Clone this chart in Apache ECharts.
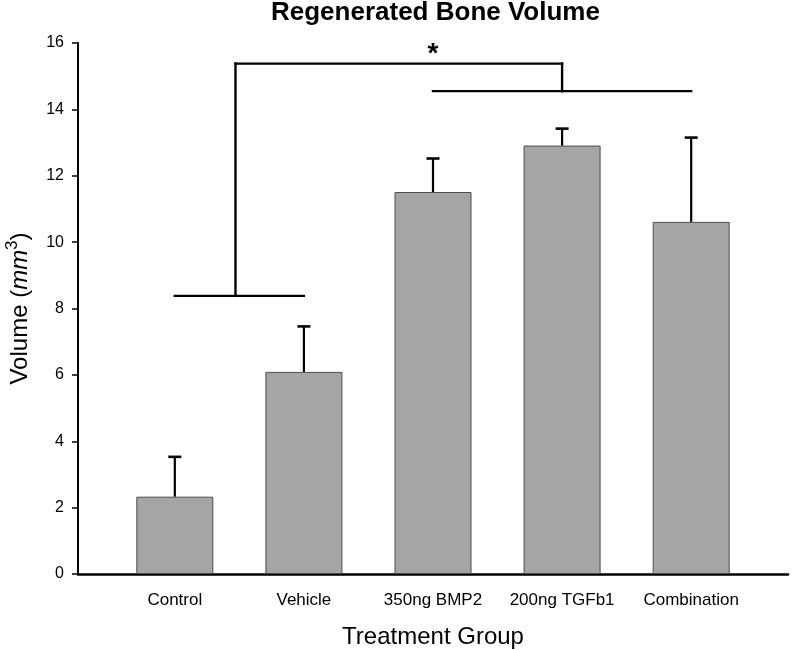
<!DOCTYPE html>
<html><head><meta charset="utf-8">
<script src="https://cdn.jsdelivr.net/npm/echarts@6/dist/echarts.min.js"></script>
<style>html,body{margin:0;padding:0;background:#fff}#c{width:792px;height:650px}</style>
</head><body><div id="c"></div>
<script>
// ---- data ----
const categories = ['Control', 'Vehicle', '350ng BMP2', '200ng TGFb1', 'Combination'];
const means = [2.33, 6.09, 11.51, 12.91, 10.61];
const errors = [1.20, 1.37, 1.01, 0.51, 2.54];
const yTicks = [0, 2, 4, 6, 8, 10, 12, 14, 16];
// significance bracket segments in data coords: [x1, y1, x2, y2]
const bracketSegments = [
  [0, 8.38, 1, 8.38],
  [0.47, 8.38, 0.47, 15.38],
  [0.47, 15.38, 3, 15.38],
  [3, 15.38, 3, 14.55],
  [2, 14.55, 4, 14.55]
];
const starLabel = ['*'];
const starPos = [[2, 15.66]];

// ---- chart ----
const FONT = '"Liberation Sans", Arial, sans-serif';
const chart = echarts.init(document.getElementById('c'), null, {renderer: 'canvas'});
const option = {
  backgroundColor: '#fff',
  animation: false,
  title: {
    text: 'Regenerated Bone Volume',
    left: 271, top: 0, padding: 0,
    textStyle: {fontFamily: FONT, fontSize: 26, fontWeight: 'bold', color: '#000'}
  },
  grid: {left: 78, right: 4, top: 43, bottom: 76, containLabel: false, outerBoundsMode: 'none'},
  xAxis: {
    type: 'value', min: -0.75, max: 4.75,
    axisLine: {show: true, onZero: false, lineStyle: {color: '#000', width: 2.5}},
    axisTick: {show: false},
    splitLine: {show: false},
    axisLabel: {
      customValues: [0, 1, 2, 3, 4],
      formatter: v => categories[Math.round(v)],
      margin: 18, fontFamily: FONT, fontSize: 17, color: '#000'
    },
    name: 'Treatment Group', nameLocation: 'middle', nameGap: 51,
    nameTextStyle: {fontFamily: FONT, fontSize: 24, color: '#000'}
  },
  yAxis: {
    type: 'value', min: yTicks[0], max: yTicks[yTicks.length - 1], interval: 2,
    axisLine: {show: true, onZero: false, lineStyle: {color: '#000', width: 2}},
    axisTick: {show: true, inside: false, length: 6, lineStyle: {color: '#000', width: 1.5}},
    splitLine: {show: false},
    axisLabel: {margin: 14, fontFamily: FONT, fontSize: 16, color: '#000'},
    name: '{a|Volume (}{b|mm}{c|3}{a|)}',
    nameLocation: 'middle', nameGap: 46, nameRotate: 90,
    nameTextStyle: {
      fontFamily: FONT, fontSize: 24, color: '#000',
      rich: {
        a: {fontFamily: FONT, fontSize: 24, color: '#000', lineHeight: 28, verticalAlign: 'bottom'},
        b: {fontFamily: FONT, fontSize: 24, fontStyle: 'italic', color: '#000', lineHeight: 28, verticalAlign: 'bottom'},
        c: {fontFamily: FONT, fontSize: 17, color: '#000', lineHeight: 28, verticalAlign: 'top'}
      }
    }
  },
  series: [
    {
      type: 'bar',
      data: means.map((m, i) => [i, m]),
      barWidth: 77,
      itemStyle: {color: '#a5a5a5', borderColor: '#4d4d4d', borderWidth: 1},
      silent: true, z: 2
    },
    {
      type: 'custom',
      data: means.map((m, i) => [i, m, m + errors[i]]),
      silent: true, z: 3,
      renderItem: (params, api) => {
        const x = api.value(0);
        const p0 = api.coord([x, api.value(1)]);
        const p1 = api.coord([x, api.value(2)]);
        const half = 6.5;
        return {
          type: 'group',
          children: [
            {type: 'line', shape: {x1: p0[0], y1: p0[1], x2: p1[0], y2: p1[1]},
             style: {stroke: '#000', lineWidth: 2.2}},
            {type: 'line', shape: {x1: p1[0] - half, y1: p1[1], x2: p1[0] + half, y2: p1[1]},
             style: {stroke: '#000', lineWidth: 2.6}}
          ]
        };
      }
    },
    {
      type: 'custom',
      data: bracketSegments,
      silent: true, z: 4,
      renderItem: (params, api) => {
        const a = api.coord([api.value(0), api.value(1)]);
        const b = api.coord([api.value(2), api.value(3)]);
        return {type: 'line', shape: {x1: a[0], y1: a[1], x2: b[0], y2: b[1]},
                style: {stroke: '#000', lineWidth: 2.4, lineCap: 'square'}};
      }
    },
    {
      type: 'custom',
      data: starPos,
      silent: true, z: 5,
      renderItem: (params, api) => {
        const p = api.coord([api.value(0), api.value(1)]);
        return {type: 'text', x: p[0], y: p[1],
                style: {text: starLabel[params.dataIndex], fontFamily: FONT, fontSize: 28,
                        fontWeight: 'bold', fill: '#000', align: 'center', verticalAlign: 'middle'}};
      }
    }
  ]
};
chart.setOption(option);
</script>
</body></html>
